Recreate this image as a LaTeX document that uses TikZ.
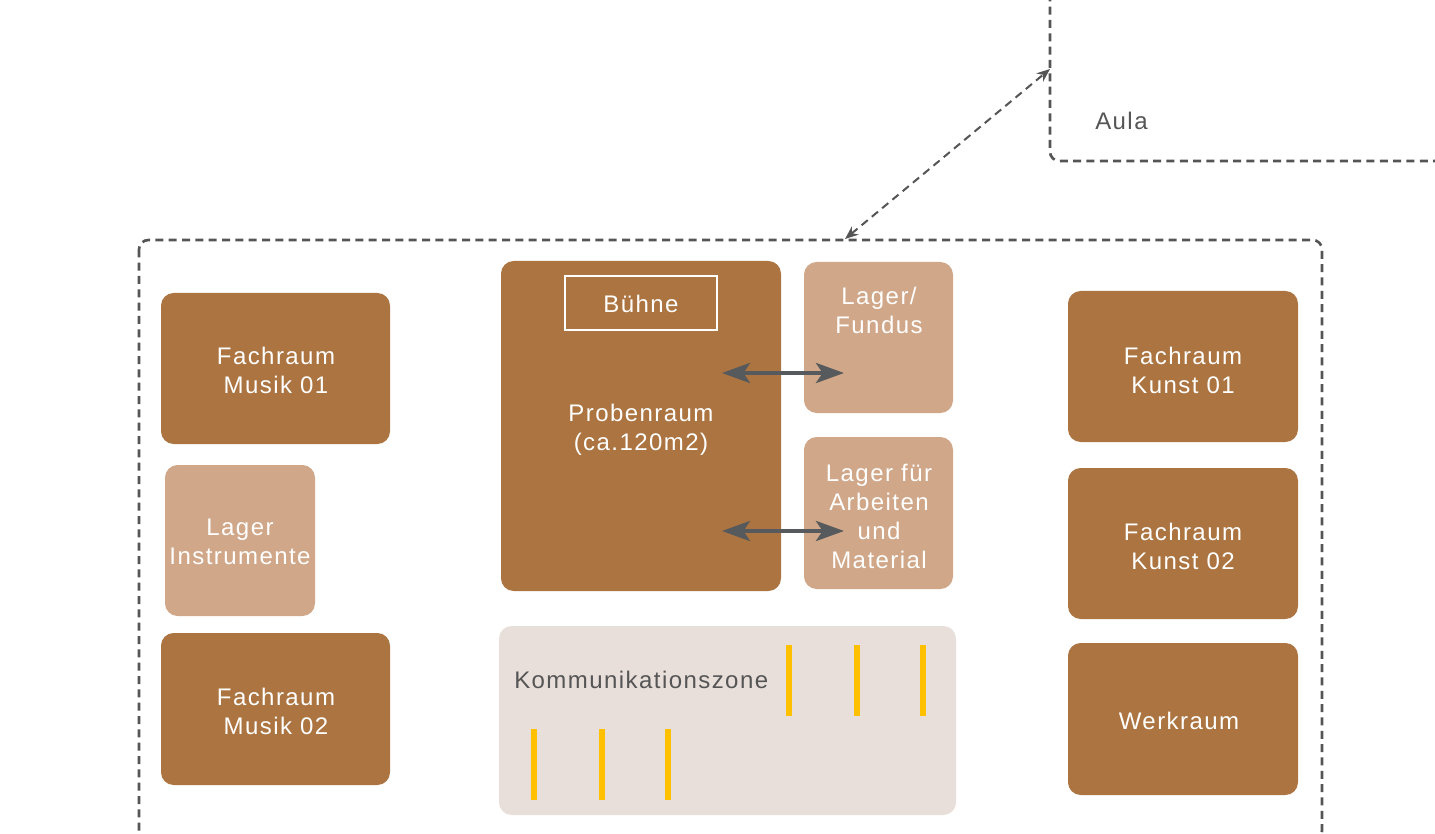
\documentclass[tikz,border=0pt]{standalone}
\usepackage{fontspec}
\setmainfont{Liberation Sans}[LetterSpace=6]
\usetikzlibrary{arrows.meta,fit}
\definecolor{brownroom}{HTML}{AB7441}
\definecolor{lightroom}{HTML}{D0A788}
\definecolor{zonebg}{HTML}{E8DFDA}
\definecolor{darkline}{HTML}{555555}
\definecolor{arrowgrey}{HTML}{565A5C}
\definecolor{yellowbar}{HTML}{FFC000}
\tikzset{
  boxbase/.style={rectangle, rounded corners=9.5pt, inner sep=0pt, draw=none},
  mainroom/.style={boxbase, fill=brownroom},
  storeroom/.style={boxbase, fill=lightroom},
  zone/.style={boxbase, fill=zonebg},
  roomtext/.style={text=white, align=center, font=\fontsize{18}{21.75}\selectfont, inner sep=0pt},
  greytext/.style={text=darkline, font=\fontsize{18}{21.75}\selectfont, inner sep=0pt},
  dashedbound/.style={draw=darkline, line width=2pt, dash pattern=on 6pt off 4pt, rounded corners=7pt},
  dblarrow/.style={draw=arrowgrey, line width=3pt, {Stealth[length=21pt,width=15pt,inset=5pt]}-{Stealth[length=21pt,width=15pt,inset=5pt]}},
  dasharrow/.style={draw=darkline, line width=1.5pt, dash pattern=on 6pt off 4pt, {Stealth[length=10pt,width=8pt]}-{Stealth[length=10pt,width=8pt]}},
  bar/.style={draw=yellowbar, line width=3.8pt}
}
\begin{document}
\begin{tikzpicture}[x=0.75pt,y=-0.75pt]
\useasboundingbox (0,0) rectangle (1435,834);
% dashed boundaries
\draw[dashedbound] (1050,-20) -- (1050,161) -- (1460,161);
\draw[dashedbound] (139,240) rectangle (1322,840);
\node[greytext, anchor=base west] (aula) at (1095,130) {Aula};
\coordinate (outtop) at (845,239);
\coordinate (aulaleft) at (1050,69);
\draw[dasharrow] (outtop) -- (aulaleft);
% left column
\node[mainroom, fit={(161,293)(390,444)}] (m1) {};
\node[roomtext] (m1t) at (276,370) {Fachraum\\Musik 01};
\node[storeroom, fit={(165,465)(315,616)}] (li) {};
\node[roomtext] (lit) at (240,542) {Lager\\Instrumente};
\node[mainroom, fit={(161,633)(390,785)}] (m2) {};
\node[roomtext] (m2t) at (276,711) {Fachraum\\Musik 02};
% centre
\node[mainroom, fit={(501,261)(781,591)}] (prob) {};
\node[draw=white, line width=1.3pt, minimum width=114pt, minimum height=40.5pt, inner sep=0pt] (buehne) at (641,303) {};
\node[roomtext] (buehnet) at (641,304) {Bühne};
\node[roomtext] (probt) at (641,430) {Probenraum\\(ca.120m2)};
\node[storeroom, fit={(804,262)(953,413)}] (lf) {};
\node[roomtext] (lft) at (879,310) {Lager/\\Fundus};
\node[storeroom, fit={(804,437)(953,589)}] (la) {};
\node[roomtext] (lat) at (879,516.5) {Lager für\\Arbeiten\\und\\Material};
\coordinate (a1s) at (722,373);
\coordinate (a1e) at (844,373);
\coordinate (a2s) at (722,531);
\coordinate (a2e) at (844,531);
\draw[dblarrow] (a1s) -- (a1e);
\draw[dblarrow] (a2s) -- (a2e);
% communication zone
\node[zone, fit={(499,626)(956,815)}] (kz) {};
\node[greytext, anchor=base west] (kzt) at (514,688) {Kommunikationszone};
\foreach \x/\n in {789/u1,857/u2,923/u3}{
  \coordinate (\n a) at (\x,645); \coordinate (\n b) at (\x,716);
  \draw[bar] (\n a) -- (\n b);
}
\foreach \x/\n in {534/l1,602/l2,668/l3}{
  \coordinate (\n a) at (\x,729); \coordinate (\n b) at (\x,800);
  \draw[bar] (\n a) -- (\n b);
}
% right column
\node[mainroom, fit={(1068,291)(1298,442)}] (k1) {};
\node[roomtext] (k1t) at (1183,370) {Fachraum\\Kunst 01};
\node[mainroom, fit={(1068,468)(1298,619)}] (k2) {};
\node[roomtext] (k2t) at (1183,546) {Fachraum\\Kunst 02};
\node[mainroom, fit={(1068,643)(1298,795)}] (wr) {};
\node[roomtext] (wrt) at (1179,721) {Werkraum};
\end{tikzpicture}
\end{document}
